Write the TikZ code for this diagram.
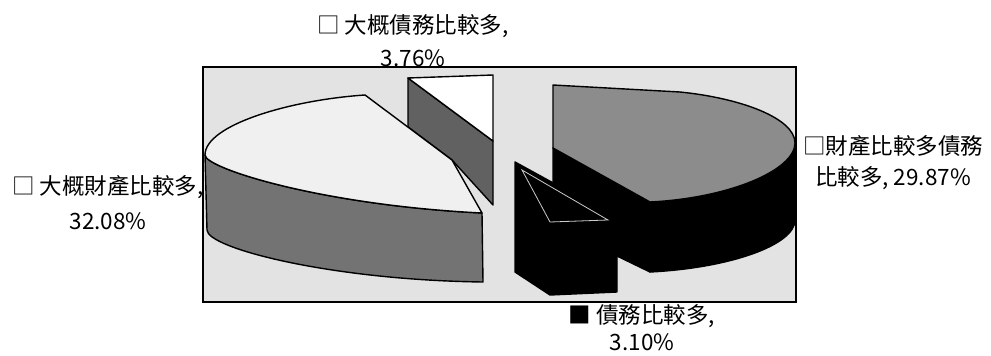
\documentclass[tikz,border=0pt]{standalone}
\usepackage{fontspec}
\newfontfamily\cjk{Noto Sans CJK TC}
\begin{document}
\begin{tikzpicture}[x=1pt,y=-1pt]
\tikzset{
  frame/.style={draw=black, line width=1.6pt, fill=black!11},
  face/.style={draw=black, line width=1.4pt, line join=round},
  lbl/.style={font=\cjk\fontsize{22.5}{27}\selectfont, align=center, inner sep=0pt},
}
\useasboundingbox (0,0) rectangle (991,356);
% plot area
\draw[frame] (203,67) rectangle (796,302);
% slice: 3.76% (back, exploded)
\filldraw[face, fill=black!62] (408,78) -- (493,141) -- (493,205) -- (452,160) -- (408,127) -- cycle;
\filldraw[face, fill=white] (408,78) -- (493,75) -- (493,141) -- cycle;
% slice: 32.08%
\filldraw[face, fill=black!55] (205,155) -- (207,230) .. controls (207,248) and (330,280) .. (483,282)
   -- (482,213) .. controls (320,205) and (205,168) .. (205,155) -- cycle;
\filldraw[face, fill=white!94!black] (452,160) -- (365,95) .. controls (290,100) and (205,125) .. (205,155)
   .. controls (205,168) and (320,205) .. (482,213) -- cycle;
% slice: 29.87%
\filldraw[face, fill=black] (553,148) -- (650,202) -- (650,272) -- (553,225) -- cycle;
\filldraw[face, fill=black] (650,202) .. controls (730,198) and (795,170) .. (795,143)
   -- (795,220) .. controls (795,245) and (730,268) .. (650,272) -- cycle;
\filldraw[face, fill=black!45] (553,148) -- (553,85) -- (680,92) .. controls (740,98) and (795,118) .. (795,143)
   .. controls (795,170) and (730,198) .. (650,202) -- cycle;
% slice: 3.10%
\filldraw[face, fill=black] (515,162) -- (617,218) -- (617,292) -- (550,295) -- (515,272) -- cycle;
\draw[white!80!black, line width=0.8pt] (522,170) -- (608,220) -- (550,222) -- cycle;
% labels
\node[lbl] (l1) at (413,41) {□ 大概債務比較多,\\[6pt]3.76\%};
\node[lbl] (l2) at (108,203) {□ 大概財產比較多,\\[8pt]32.08\%};
\node[lbl] (l3) at (893,163) {□財產比較多債務\\[4pt]比較多, 29.87\%};
\node[lbl] (l4) at (642,328) {■ 債務比較多,\\3.10\%};
\end{tikzpicture}
\end{document}
